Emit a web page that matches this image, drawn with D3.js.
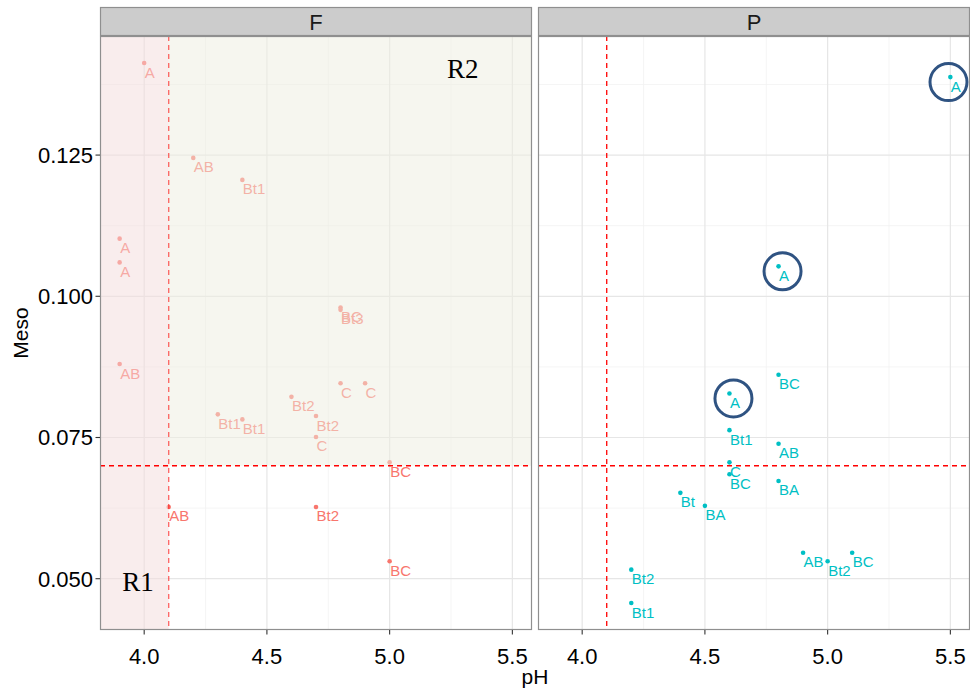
<!DOCTYPE html>
<html><head><meta charset="utf-8">
<script src="https://cdn.jsdelivr.net/npm/d3@7"></script>
<style>body{margin:0;background:#fff}svg{display:block}</style>
</head><body>
<script>
// ---------- data ----------
const panelNames = ["F", "P"];
const fPH   = [4.0, 4.2, 4.4, 3.9, 3.9, 3.9, 4.3, 4.4, 4.6, 4.8, 4.8, 4.8, 4.9, 4.7, 4.7, 5.0, 4.1, 4.7, 5.0];
const fMeso = [0.1413, 0.1245, 0.1206, 0.1102, 0.1060, 0.0880, 0.0791, 0.0782, 0.0822, 0.0980, 0.0976, 0.0846, 0.0846, 0.0788, 0.0751, 0.0706, 0.0627, 0.0627, 0.0531];
const fLab  = ["A", "AB", "Bt1", "A", "A", "AB", "Bt1", "Bt1", "Bt2", "BC", "Bt3", "C", "C", "Bt2", "C", "BC", "AB", "Bt2", "BC"];
const pPH   = [5.5, 4.8, 4.6, 4.8, 4.6, 4.8, 4.6, 4.6, 4.8, 4.4, 4.5, 4.9, 5.0, 5.1, 4.2, 4.2];
const pMeso = [0.1388, 0.1053, 0.0828, 0.0861, 0.0763, 0.0739, 0.0706, 0.0685, 0.0673, 0.0652, 0.0629, 0.0546, 0.0531, 0.0546, 0.0516, 0.0457];
const pLab  = ["A", "A", "A", "BC", "Bt1", "AB", "C", "BC", "BA", "Bt", "BA", "AB", "Bt2", "BC", "Bt2", "Bt1"];
const circledP = [0, 1, 2];          // indices of circled points in panel P
const xTicks = [4.0, 4.5, 5.0, 5.5];
const xTickLabels = ["4.0", "4.5", "5.0", "5.5"];
const yTicks = [0.050, 0.075, 0.100, 0.125];
const yTickLabels = ["0.050", "0.075", "0.100", "0.125"];
const xMinor = [4.25, 4.75, 5.25];
const yMinor = [0.0625, 0.0875, 0.1125, 0.1375];
const phCut = 4.1, mesoCut = 0.07;
const regionLabels = ["R1", "R2"];
const regionLabelPos = [[3.975, 0.0478], [5.298, 0.1386]];

// ---------- layout ----------
const W = 970, H = 691;
const plotTop = 36, plotBottom = 630, stripTop = 7;
const panelX = [[100, 532], [538, 970]];
const colors = {F: "#F8766D", P: "#00BFC4"};
const FONT = "Liberation Sans, Arial, sans-serif";

const allPH = fPH.concat(pPH), allMeso = fMeso.concat(pMeso);
const xe = d3.extent(allPH), ye = d3.extent(allMeso);
const xpad = (xe[1] - xe[0]) * 0.05, ypad = (ye[1] - ye[0]) * 0.05;
const xDom = [xe[0] - xpad, xe[1] + xpad];
const yDom = [ye[0] - ypad, ye[1] + ypad];
const y = d3.scaleLinear().domain(yDom).range([plotBottom, plotTop]);

const svg = d3.select("body").append("svg").attr("width", W).attr("height", H)
  .style("font-family", FONT);

const panelData = {
  F: fPH.map((v, i) => ({x: v, y: fMeso[i], lab: fLab[i]})),
  P: pPH.map((v, i) => ({x: v, y: pMeso[i], lab: pLab[i]}))
};

panelNames.forEach((name, pi) => {
  const [x0, x1] = panelX[pi];
  const x = d3.scaleLinear().domain(xDom).range([x0, x1]);
  const g = svg.append("g");
  const clipId = "clip" + name;
  svg.append("clipPath").attr("id", clipId).append("rect")
    .attr("x", x0).attr("y", plotTop).attr("width", x1 - x0).attr("height", plotBottom - plotTop);
  const inner = g.append("g").attr("clip-path", `url(#${clipId})`);

  // minor grid
  inner.selectAll(".xm").data(xMinor).join("line")
    .attr("x1", d => x(d)).attr("x2", d => x(d)).attr("y1", plotTop).attr("y2", plotBottom)
    .attr("stroke", "#F3F3F3").attr("stroke-width", 0.8);
  inner.selectAll(".ym").data(yMinor).join("line")
    .attr("y1", d => y(d)).attr("y2", d => y(d)).attr("x1", x0).attr("x2", x1)
    .attr("stroke", "#F3F3F3").attr("stroke-width", 0.8);
  // major grid
  inner.selectAll(".xg").data(xTicks).join("line")
    .attr("x1", d => x(d)).attr("x2", d => x(d)).attr("y1", plotTop).attr("y2", plotBottom)
    .attr("stroke", "#E6E6E6").attr("stroke-width", 1.2);
  inner.selectAll(".yg").data(yTicks).join("line")
    .attr("y1", d => y(d)).attr("y2", d => y(d)).attr("x1", x0).attr("x2", x1)
    .attr("stroke", "#E6E6E6").attr("stroke-width", 1.2);

  const pts = panelData[name];
  const col = colors[name];
  inner.selectAll(".pt").data(pts).join("circle")
    .attr("cx", d => x(d.x)).attr("cy", d => y(d.y)).attr("r", 2.3).attr("fill", col);
  inner.selectAll(".lab").data(pts).join("text")
    .attr("x", d => x(d.x) + 0.5).attr("y", d => y(d.y) + 14.5)
    .attr("font-size", 15).attr("fill", col).text(d => d.lab);

  if (name === "F") {
    inner.append("rect").attr("x", x(xDom[0])).attr("y", plotTop)
      .attr("width", x(phCut) - x(xDom[0])).attr("height", plotBottom - plotTop)
      .attr("fill", "#F3DBDB").attr("opacity", 0.5);
    inner.append("rect").attr("x", x(phCut)).attr("y", y(yDom[1]))
      .attr("width", x(xDom[1]) - x(phCut)).attr("height", y(mesoCut) - y(yDom[1]))
      .attr("fill", "#EDEDDF").attr("opacity", 0.5);
  }

  inner.append("line").attr("x1", x(phCut)).attr("x2", x(phCut)).attr("y1", plotTop).attr("y2", plotBottom)
    .attr("stroke", "#FF0000").attr("stroke-width", 1.3).attr("stroke-dasharray", "5,4")
    .attr("opacity", name === "F" ? 0.6 : 1);
  inner.append("line").attr("x1", x0).attr("x2", x1).attr("y1", y(mesoCut)).attr("y2", y(mesoCut))
    .attr("stroke", "#FF0000").attr("stroke-width", 1.3).attr("stroke-dasharray", "5,4");

  if (name === "F") {
    g.selectAll(".rl").data(regionLabels).join("text")
      .attr("x", (d, i) => x(regionLabelPos[i][0])).attr("y", (d, i) => y(regionLabelPos[i][1]))
      .attr("text-anchor", "middle").attr("font-family", "Liberation Serif, Times New Roman, serif")
      .attr("font-size", 27).attr("fill", "#000").text(d => d);
  }
  if (name === "P") {
    const r = 18.5;
    g.selectAll(".circ").data(circledP.map(i => pts[i])).join("circle")
      .attr("cx", d => Math.min(x(d.x) + 4, x1 - r - 3)).attr("cy", d => y(d.y) + 5).attr("r", r)
      .attr("fill", "none").attr("stroke", "#2F5382").attr("stroke-width", 3);
  }

  g.append("rect").attr("x", x0 + 0.5).attr("y", plotTop + 0.5).attr("width", x1 - x0 - 1).attr("height", plotBottom - plotTop - 1)
    .attr("fill", "none").attr("stroke", "#8F8F8F").attr("stroke-width", 1.2);
  g.append("rect").attr("x", x0 + 0.5).attr("y", stripTop + 0.5).attr("width", x1 - x0 - 1).attr("height", plotTop - stripTop - 1)
    .attr("fill", "#CCCCCC").attr("stroke", "#8F8F8F").attr("stroke-width", 1.2);
  g.append("text").attr("x", (x0 + x1) / 2).attr("y", (stripTop + plotTop) / 2 + 8)
    .attr("text-anchor", "middle").attr("font-size", 22).attr("fill", "#1a1a1a").text(name);

  g.selectAll(".xt").data(xTicks).join("line")
    .attr("x1", d => x(d)).attr("x2", d => x(d)).attr("y1", plotBottom).attr("y2", plotBottom + 4.5)
    .attr("stroke", "#333").attr("stroke-width", 1.1);
  g.selectAll(".xl").data(xTicks).join("text")
    .attr("x", d => x(d)).attr("y", 664).attr("text-anchor", "middle")
    .attr("font-size", 22).attr("fill", "#000").text((d, i) => xTickLabels[i]);

  if (pi === 0) {
    g.selectAll(".yt").data(yTicks).join("line")
      .attr("y1", d => y(d)).attr("y2", d => y(d)).attr("x1", x0 - 4.5).attr("x2", x0)
      .attr("stroke", "#333").attr("stroke-width", 1.1);
    g.selectAll(".yl").data(yTicks).join("text")
      .attr("x", 93).attr("y", d => y(d) + 8).attr("text-anchor", "end")
      .attr("font-size", 22).attr("fill", "#000").text((d, i) => yTickLabels[i]);
  }
});

svg.append("text").attr("x", (panelX[0][0] + panelX[1][1]) / 2).attr("y", 684)
  .attr("text-anchor", "middle").attr("font-size", 21).attr("fill", "#000").text("pH");
svg.append("text").attr("transform", `translate(28,${(plotTop + plotBottom) / 2}) rotate(-90)`)
  .attr("text-anchor", "middle").attr("font-size", 21).attr("fill", "#000").text("Meso");
</script>
</body></html>
